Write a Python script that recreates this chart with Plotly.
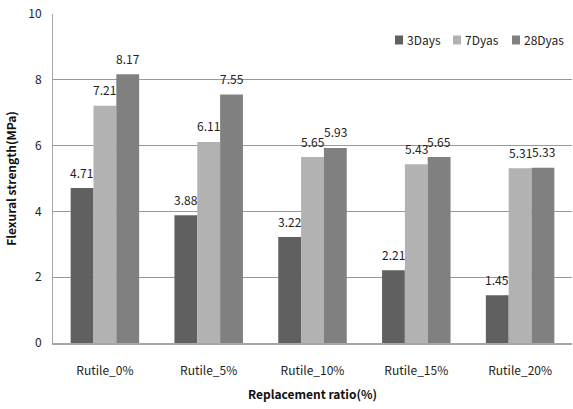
import plotly.graph_objects as go

categories = ["Rutile_0%", "Rutile_5%", "Rutile_10%", "Rutile_15%", "Rutile_20%"]
days3 = [4.71, 3.88, 3.22, 2.21, 1.45]
days7 = [7.21, 6.11, 5.65, 5.43, 5.31]
days28 = [8.17, 7.55, 5.93, 5.65, 5.33]
series_names = ["3Days", "7Dyas", "28Dyas"]
colors = ["#606060", "#b2b2b2", "#808080"]

FONT = "Noto Sans CJK KR, Noto Sans, sans-serif"

fig = go.Figure()
series = [days3, days7, days28]
for name, vals, col in zip(series_names, series, colors):
    fig.add_trace(go.Bar(
        x=categories, y=vals, name=name,
        marker=dict(color=col, line=dict(width=0)),
        showlegend=False,
    ))

# value labels floating above each bar
bar_px = 23
for i, vals in enumerate(series):
    for cat, v in zip(categories, vals):
        fig.add_annotation(
            x=cat, y=v, text=f"{v:.2f}", showarrow=False,
            xshift=(i - 1) * bar_px, yshift=16,
            font=dict(size=12, color="#222", family=FONT),
        )

# compact legend: small squares with labels at top right
plot_w = 519
legend_x = [395, 453, 512]
for name, col, px in zip(series_names, colors, legend_x):
    x0 = (px - 53) / plot_w
    fig.add_shape(
        type="rect", xref="paper", yref="paper",
        xsizemode="pixel", ysizemode="pixel",
        xanchor=x0, yanchor=0.921,
        x0=0, x1=8, y0=-4.5, y1=4.5,
        fillcolor=col, line=dict(width=0),
    )
    fig.add_annotation(
        xref="paper", yref="paper", x=(px + 10 - 53) / plot_w, y=0.921,
        xanchor="left", yanchor="middle", text=name, showarrow=False,
        font=dict(size=12, color="#222", family=FONT),
    )

fig.update_layout(
    width=573, height=409,
    margin=dict(l=53, r=1, t=14, b=66),
    paper_bgcolor="white", plot_bgcolor="white",
    barmode="group", bargap=0.34, bargroupgap=0,
    font=dict(family=FONT, size=12, color="#222"),
    xaxis=dict(
        showgrid=False, showline=True, linecolor="#a6a6a6", linewidth=2,
        ticks="", tickfont=dict(size=12, color="#222"), ticklabelstandoff=16,
        title=dict(text="<b>Replacement ratio(%)</b>", font=dict(size=12, color="#111"),
                   standoff=13),
    ),
    yaxis=dict(
        range=[0, 10], dtick=2, showgrid=True, gridcolor="#999999", gridwidth=1,
        showline=True, linecolor="#a6a6a6", linewidth=1,
        ticks="", tickfont=dict(size=12, color="#222"), ticklabelstandoff=8,
        zeroline=False,
        title=dict(text="<b>Flexural strength(MPa)</b>", font=dict(size=12, color="#111"),
                   standoff=9),
    ),
)

fig.write_html("out.html")
